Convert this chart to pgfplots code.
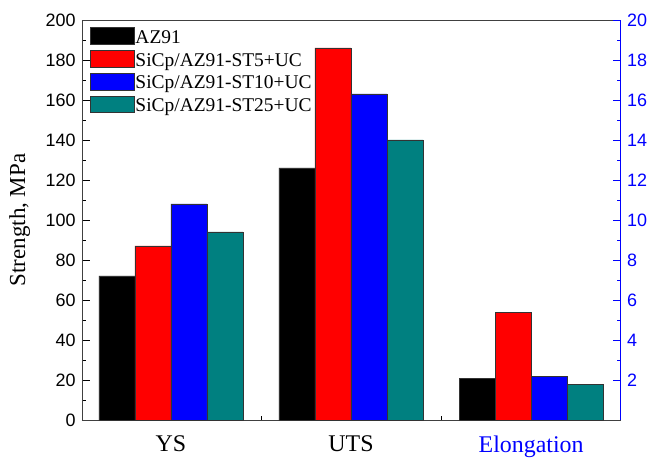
\documentclass[border=0pt]{standalone}
\usepackage{pgfplots}
\pgfplotsset{compat=1.18}
\usepackage{fontspec}
\setmainfont{Liberation Serif}
\newfontfamily\arialfont{Liberation Sans}
\definecolor{cteal}{RGB}{0,128,128}
\definecolor{cblue}{RGB}{0,0,255}
\definecolor{cred}{RGB}{255,0,0}
\begin{document}
\begin{tikzpicture}
\pgfplotsset{
  common/.style={
    scale only axis, width=538.5bp, height=400bp,
    xmin=-0.493, xmax=2.496,
    tick align=inside,
    major tick length=8bp, minor tick length=4bp,
    minor y tick num=1,
    every tick/.style={line width=0.8bp},
  },
}
\begin{axis}[
  common, name=main,
  ymin=0, ymax=200,
  ytick={0,20,...,200},
  ytick pos=left, xtick pos=bottom,
  xtick={0,1,2},
  xticklabels={YS,UTS,\textcolor{cblue}{Elongation}},
  minor xtick={0.5,1.5},
  major x tick style={draw=none},
  axis line style={line width=0.9bp, draw=black!75},
  xticklabel style={font=\fontsize{24}{28}\selectfont, yshift=-12bp},
  yticklabel={\pgfmathprintnumber[assume math mode=true]{\tick}},
  yticklabel style={font=\arialfont\fontsize{18}{21}\selectfont, xshift=-3bp},
  ylabel={Strength, MPa},
  ylabel style={at={(axis description cs:-0.116,0.5)}, anchor=center, font=\fontsize{23}{27}\selectfont},
  legend style={at={(axis description cs:0,1)}, xshift=8.5bp, yshift=-7.5bp,
    anchor=north west, draw=none, fill=none,
    font=\fontsize{19.5}{22}\selectfont, row sep=3.8bp, inner sep=0pt, outer sep=0pt,
    nodes={inner sep=1.6bp},
    cells={anchor=west}},
  legend image code/.code={\draw[#1] (0bp,-6.5bp) rectangle (43bp,10bp);},
]
\addplot[ybar, bar width=0.2, bar shift=-0.3, fill=black, draw=black!80] coordinates {(0,72) (1,126)};
\addlegendentry{AZ91}
\addplot[ybar, bar width=0.2, bar shift=-0.1, fill=cred, draw=black!80] coordinates {(0,87) (1,186)};
\addlegendentry{SiCp/AZ91-ST5+UC}
\addplot[ybar, bar width=0.2, bar shift=0.1, fill=cblue, draw=black!80] coordinates {(0,108) (1,163)};
\addlegendentry{SiCp/AZ91-ST10+UC}
\addplot[ybar, bar width=0.2, bar shift=0.3, fill=cteal, draw=black!80] coordinates {(0,94) (1,140)};
\addlegendentry{SiCp/AZ91-ST25+UC}
\end{axis}
\begin{axis}[
  common,
  ymin=0, ymax=20,
  axis x line=none,
  axis y line*=right,
  ytick={2,4,...,20},
  y axis line style={line width=0.9bp, draw=cblue},
  ytick style={draw=cblue},
  minor y tick style={draw=cblue},
  tick align=inside,
  yticklabel={\pgfmathprintnumber[assume math mode=true]{\tick}},
  yticklabel style={font=\arialfont\fontsize{18}{21}\selectfont, text=cblue, xshift=3bp},
]
\addplot[ybar, bar width=0.2, bar shift=-0.3, fill=black, draw=black!80] coordinates {(2,2.1)};
\addplot[ybar, bar width=0.2, bar shift=-0.1, fill=cred, draw=black!80] coordinates {(2,5.4)};
\addplot[ybar, bar width=0.2, bar shift=0.1, fill=cblue, draw=black!80] coordinates {(2,2.2)};
\addplot[ybar, bar width=0.2, bar shift=0.3, fill=cteal, draw=black!80] coordinates {(2,1.8)};
\end{axis}
\pgfresetboundingbox
\path ([shift={(-82bp,-37.5bp)}]main.south west) rectangle ([shift={(30.5bp,20bp)}]main.north east);
\end{tikzpicture}
\end{document}
